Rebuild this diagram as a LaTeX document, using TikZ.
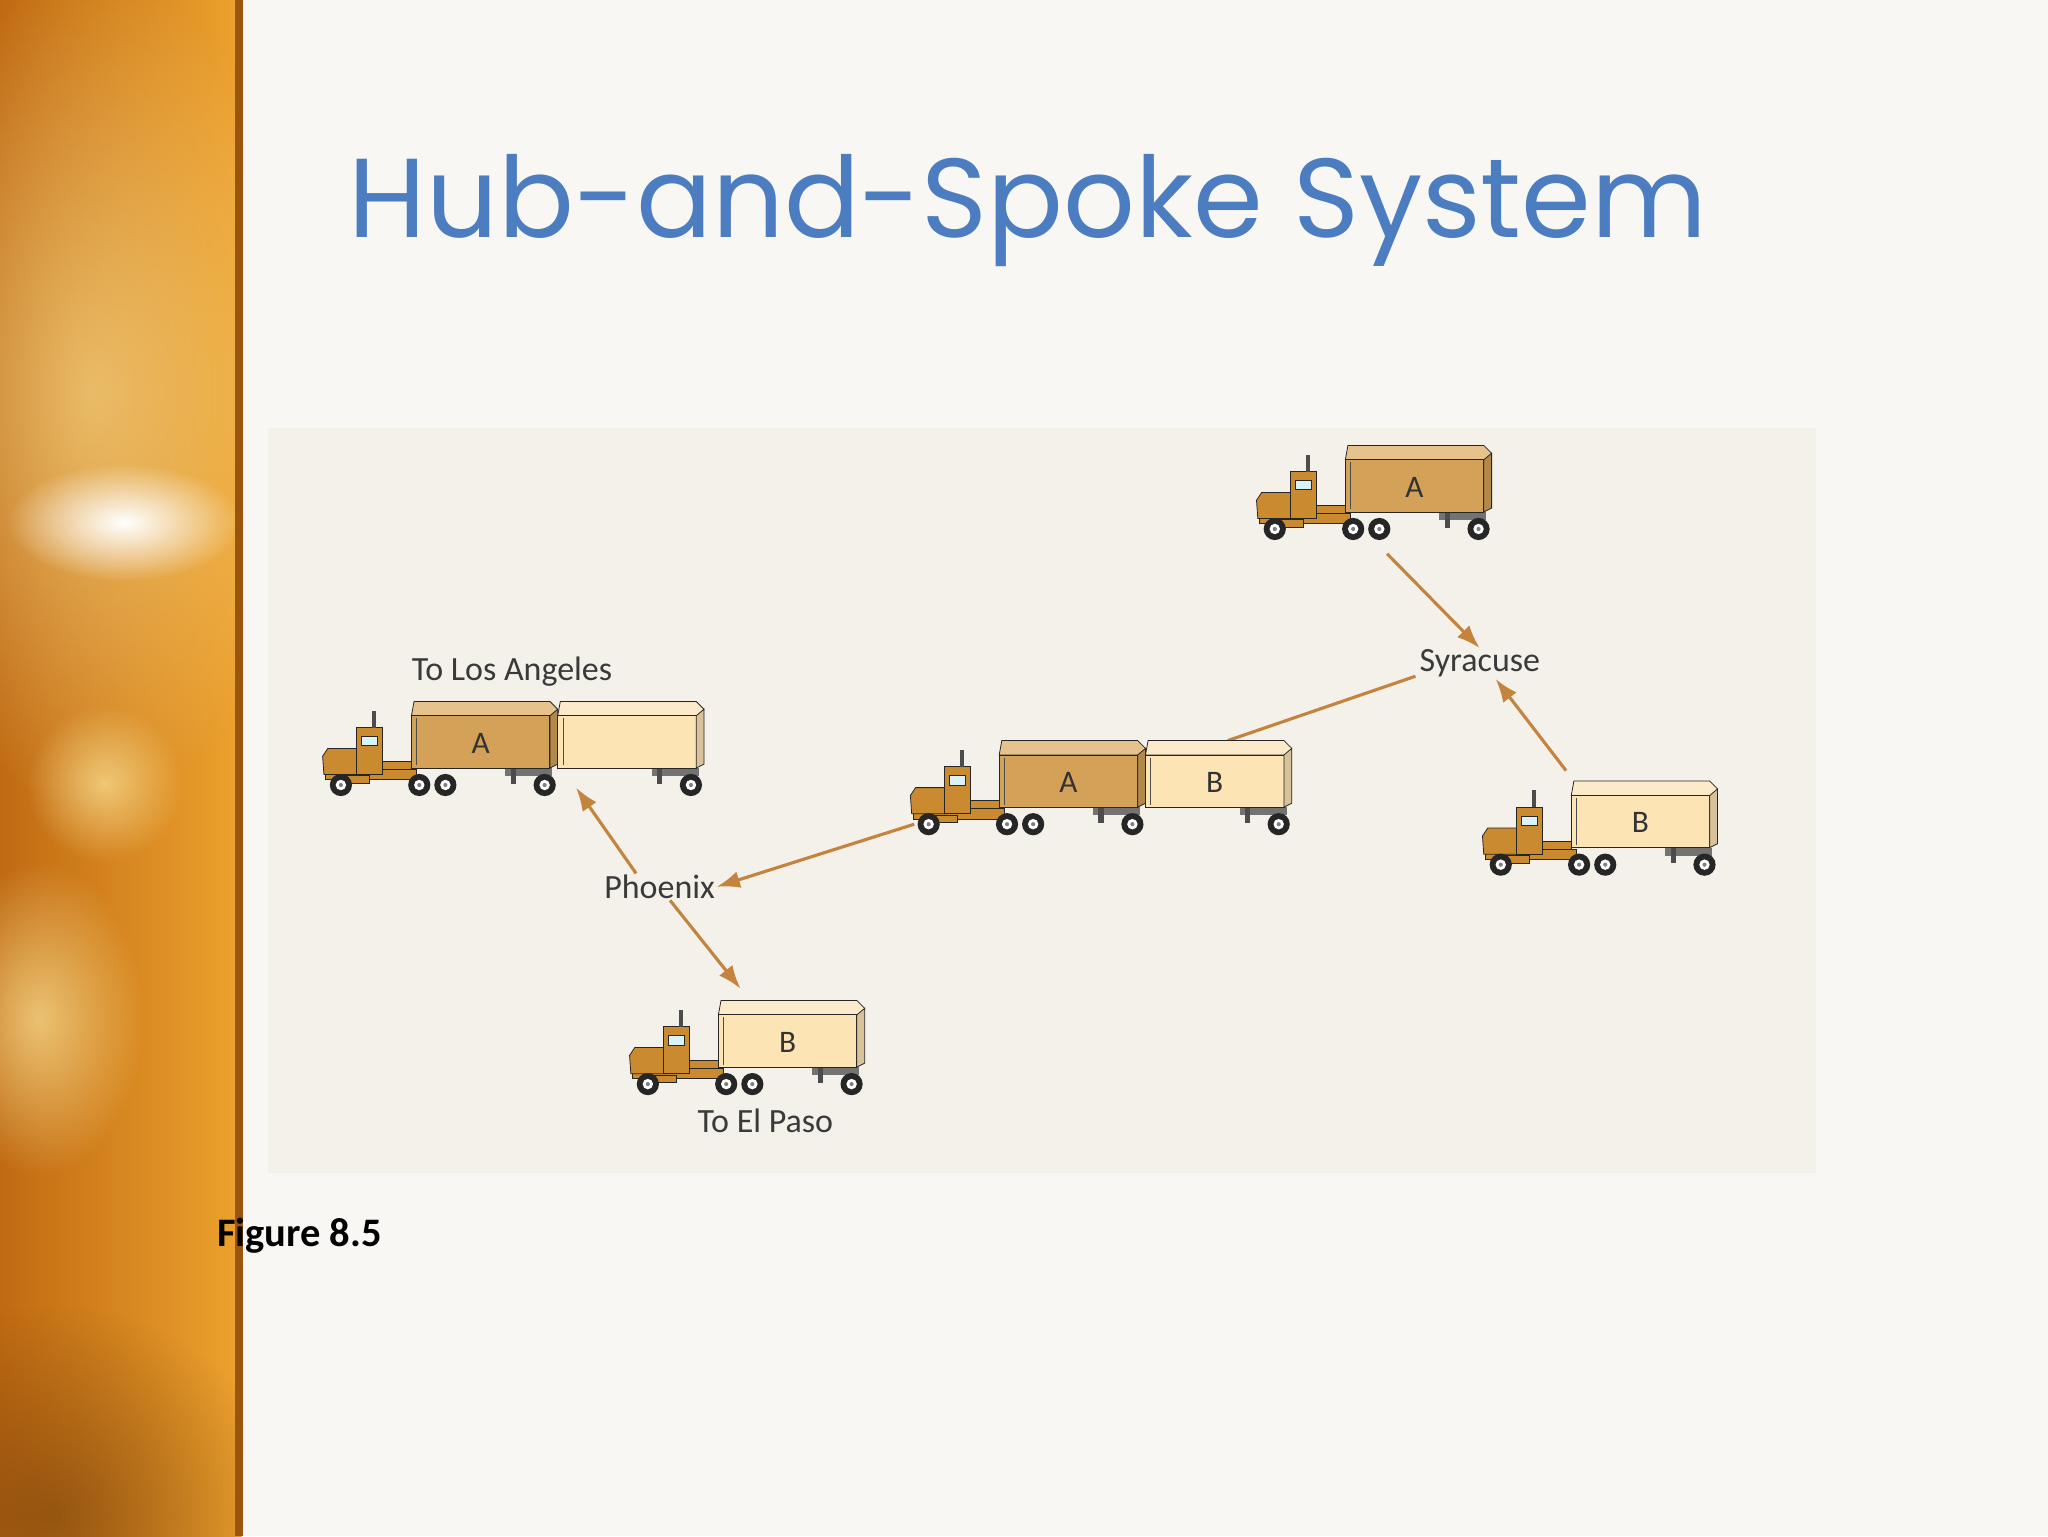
\documentclass[tikz,border=0pt]{standalone}
\usepackage{fontspec}
\setmainfont{Carlito}
\newfontfamily\titlefont{Poppins}
\usetikzlibrary{arrows.meta,fadings}
\tikzfading[name=glow, inner color=transparent!0, outer color=transparent!100]
\definecolor{bgc}{HTML}{F9F7F3}
\definecolor{panel}{HTML}{F3F1EA}
\definecolor{tractor}{HTML}{C98A30}
\definecolor{trA}{HTML}{D3A158}
\definecolor{trAtop}{HTML}{E6C38C}
\definecolor{trB}{HTML}{FDE4B4}
\definecolor{trBtop}{HTML}{FBEBCB}
\definecolor{arr}{HTML}{C4843E}
\definecolor{titleblue}{HTML}{4B7DC0}
\definecolor{txt}{HTML}{3A3A3A}
\definecolor{stripL}{HTML}{C06A12}
\definecolor{stripR}{HTML}{EDA22E}
\definecolor{glowc}{HTML}{FBE49A}
\tikzset{
  outl/.style={draw=black!85,line width=0.6pt},
  spoke/.style={draw=arr,line width=2.4pt,-{Latex[length=18pt,width=13pt]}},
  spokeplain/.style={draw=arr,line width=2.4pt},
  lbl/.style={font=\fontsize{26}{28}\selectfont,text=txt,inner sep=1pt},
}
\newcommand\mywheel[1]{%
  \fill[black!85] (#1,0) circle (8.5);
  \fill[white] (#1,0) circle (4);
  \fill[black!50] (#1,0) circle (1.6);}
\newcommand\mytrailer[4]{% x0, label, main, top
  \fill[black!55] (#1+72,-13) rectangle (#1+108,-7);
  \fill[black!70] (#1+76,-13) rectangle (#1+80,-1);
  \filldraw[outl,fill=#4] (#1,-53) -- (#1+2,-64) -- (#1+106,-64) -- (#1+112,-58) -- (#1+110,-53) -- cycle;
  \filldraw[outl,fill=#3] (#1,-13) rectangle (#1+106,-53);
  \filldraw[outl,fill=#3!85!black] (#1+106,-13) -- (#1+106,-53) -- (#1+112,-58) -- (#1+112,-16) -- cycle;
  \draw[black!70,line width=0.4pt] (#1+4,-15) -- (#1+4,-51);
  \node[font=\fontsize{24}{26}\selectfont,text=black!80] at (#1+53,-32) {#2};
  \mywheel{#1+102}}
\newcommand\mytractor{%
  \filldraw[outl,fill=tractor] (2,-4) rectangle (72,-12);
  \filldraw[outl,fill=tractor] (18,-1) rectangle (36,-7);
  \filldraw[outl,fill=tractor] (1,-8) -- (0,-22) -- (4,-28) -- (28,-28) -- (28,-8) -- cycle;
  \filldraw[outl,fill=tractor] (26,-8) rectangle (46,-44);
  \fill[black!70] (38,-44) rectangle (41,-57);
  \filldraw[outl,fill=cyan!15] (30,-30) rectangle (42,-37);
  \filldraw[outl,fill=tractor] (46,-12) rectangle (68,-18);
  \mywheel{14}\mywheel{74}\mywheel{94}}
\begin{document}
\begin{tikzpicture}[x=1pt,y=-1pt]
\useasboundingbox (0,0) rectangle (1568,1176);
\fill[bgc] (0,0) rectangle (1568,1176);
% left decorative strip
\begin{scope}
\clip (0,0) rectangle (185,1176);
\shade[left color=stripL,right color=stripR] (0,0) rectangle (185,1176);
\fill[glowc,opacity=0.6,path fading=glow] (70,300) ellipse (180 and 320);
\fill[white,path fading=glow] (95,400) ellipse (90 and 45);
\fill[glowc,opacity=0.7,path fading=glow] (80,600) ellipse (60 and 60);
\fill[glowc,opacity=0.7,path fading=glow] (30,780) ellipse (80 and 120);
\fill[stripL!60!black,opacity=0.6,path fading=glow] (40,1160) ellipse (180 and 160);
\end{scope}
\fill[stripL!80!black] (180,0) rectangle (186,1176);
% title
\node[font=\titlefont\fontsize{86}{94}\selectfont,text=titleblue,anchor=base] (title) at (787,182) {Hub-and-Spoke System};
% panel
\fill[panel] (205,328) rectangle (1390,898);
\node[font=\bfseries\fontsize{31}{33}\selectfont,anchor=base west,inner sep=0pt] (fig) at (166,954) {Figure 8.5};
% labels
\node[lbl] (la) at (392,514) {To Los Angeles};
\node[lbl] (syr) at (1133,508) {Syracuse};
\node[lbl] (phx) at (505,679) {Phoenix};
\node[lbl] (ep) at (586,858) {To El Paso};
% coordinates for connectors
\coordinate (topT) at (1062,424);
\coordinate (rightT) at (1199,590);
\coordinate (midR) at (940,567);
\coordinate (midL) at (700,631);
\coordinate (laT) at (441,603);
\coordinate (epT) at (567,757);
\draw[spokeplain] (syr.south west) ++(-2,-2) -- (midR);
% trucks
\begin{scope}[shift={(962,405)}]\mytractor\mytrailer{68}{A}{trA}{trAtop}\end{scope}
\begin{scope}[shift={(247,601)}]\mytractor\mytrailer{68}{A}{trA}{trAtop}\mytrailer{180}{}{trB}{trBtop}\end{scope}
\begin{scope}[shift={(697,631)}]\mytractor\mytrailer{68}{A}{trA}{trAtop}\mytrailer{180}{B}{trB}{trBtop}\end{scope}
\begin{scope}[shift={(1135,662)}]\mytractor\mytrailer{68}{B}{trB}{trBtop}\end{scope}
\begin{scope}[shift={(482,830)}]\mytractor\mytrailer{68}{B}{trB}{trBtop}\end{scope}
% spokes
\draw[spoke] (topT) -- (syr.north);
\draw[spoke] (rightT) -- ([xshift=12pt]syr.south);
\draw[spoke] (midL) -- (phx.east);
\draw[spoke] ([xshift=-18pt]phx.north) -- (laT);
\draw[spoke] ([xshift=8pt]phx.south) -- (epT);
\end{tikzpicture}
\end{document}
